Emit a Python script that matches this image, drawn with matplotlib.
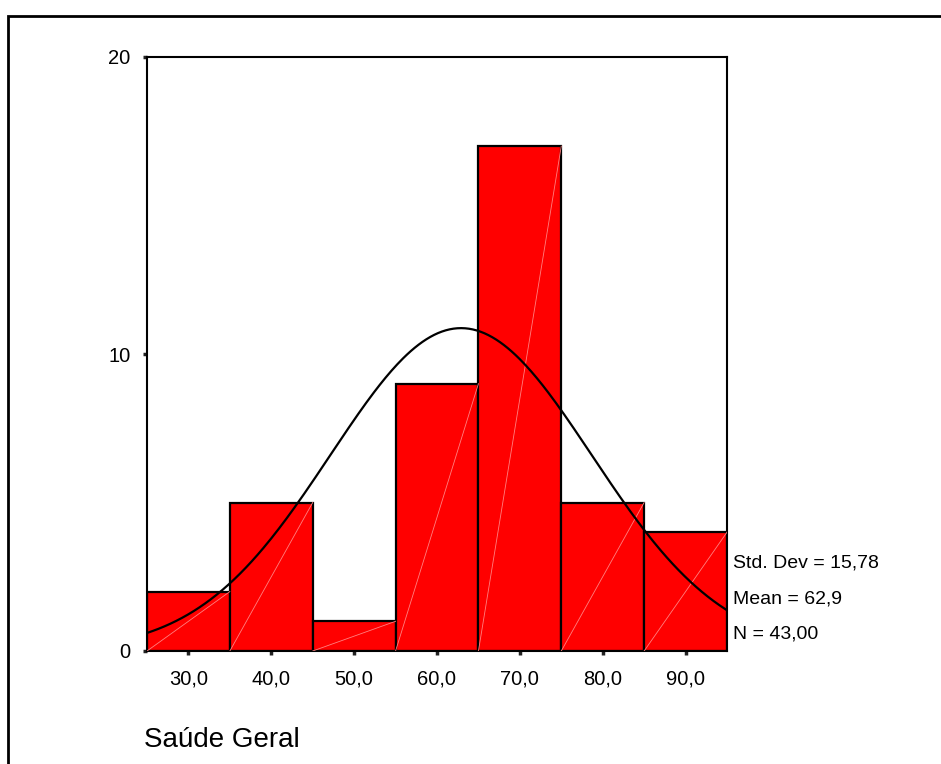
import numpy as np
import matplotlib
matplotlib.use("Agg")
import matplotlib.pyplot as plt
from matplotlib.patches import Rectangle

plt.rcParams["font.family"] = ["Liberation Sans", "DejaVu Sans"]

# histogram of "Saúde Geral" scores, bins of width 10
bin_centers = [30, 40, 50, 60, 70, 80, 90]
counts = [2, 5, 1, 9, 17, 5, 4]
x_labels = ["30,0", "40,0", "50,0", "60,0", "70,0", "80,0", "90,0"]
y_ticks = [0, 10, 20]
std_dev = 15.78
mean = 62.9
n = 43
bin_width = 10

W, H = 941, 764
fig = plt.figure(figsize=(W / 100, H / 100), dpi=100)

# frame around the whole chart (runs off the right and bottom edges)
fig.add_artist(Rectangle((8 / W, -0.1), 1.2, (H - 16) / H + 0.1,
                         transform=fig.transFigure, fill=False,
                         edgecolor="black", linewidth=2))

ax = fig.add_axes([147 / W, (H - 651) / H, (727 - 147) / W, (651 - 57) / H])

edges = np.array(bin_centers) - bin_width / 2
ax.bar(bin_centers, counts, width=bin_width, color="#ff0000",
       edgecolor="black", linewidth=1.6, zorder=2)

# faint diagonal streak inside each bar
for left, c in zip(edges, counts):
    ax.plot([left, left + bin_width], [0, c], color="#ff8080",
            linewidth=0.6, zorder=3)

# normal curve scaled to the counts
xs = np.linspace(edges[0], edges[-1] + bin_width, 300)
ys = n * bin_width * np.exp(-0.5 * ((xs - mean) / std_dev) ** 2) / (std_dev * np.sqrt(2 * np.pi))
ax.plot(xs, ys, color="black", linewidth=1.6, zorder=4)

ax.set_xlim(edges[0], edges[-1] + bin_width)
ax.set_ylim(0, 20)
ax.set_xticks(bin_centers)
ax.set_xticklabels(x_labels, fontsize=14.5)
ax.set_yticks(y_ticks)
ax.set_yticklabels([str(t) for t in y_ticks], fontsize=14.5)
ax.tick_params(axis="both", direction="out", length=3, width=2.5, color="#222222")
ax.tick_params(axis="x", pad=10)
ax.tick_params(axis="y", pad=9)
for s in ax.spines.values():
    s.set_linewidth(1.5)


def comma(v, digits):
    return f"{v:.{digits}f}".replace(".", ",")


# stats block to the right of the plot
stats = [f"Std. Dev = {comma(std_dev, 2)}",
         f"Mean = {comma(mean, 1)}",
         f"N = {comma(n, 2)}"]
for i, line in enumerate(stats):
    fig.text(733 / W, (H - 563 - 35.5 * i) / H, line, fontsize=14,
             ha="left", va="center")

fig.text(144 / W, (H - 740) / H, "Saúde Geral", fontsize=20,
         ha="left", va="center")

fig.savefig("out.png", dpi=100)
